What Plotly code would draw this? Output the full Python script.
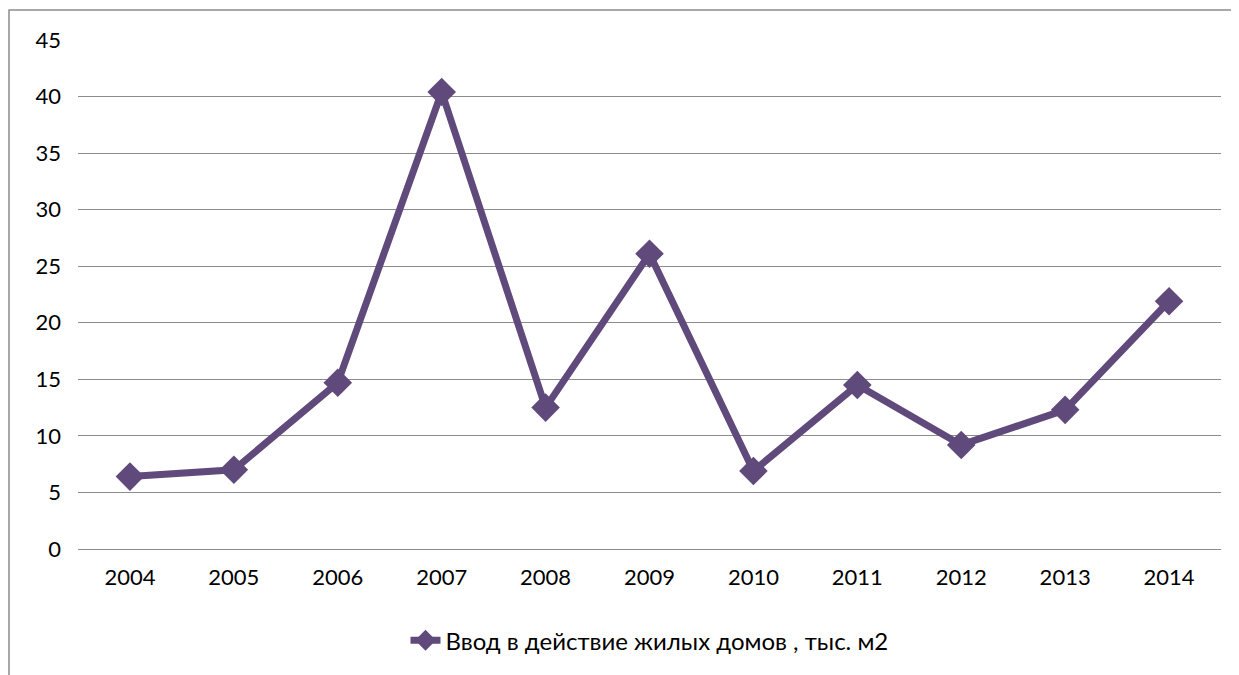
import plotly.graph_objects as go

years = ["2004", "2005", "2006", "2007", "2008", "2009", "2010", "2011", "2012", "2013", "2014"]
values = [6.4, 7.0, 14.7, 40.4, 12.5, 26.1, 6.9, 14.5, 9.2, 12.3, 21.9]
series_name = "Ввод в действие жилых домов , тыс. м2"
y_ticks = [0, 5, 10, 15, 20, 25, 30, 35, 40, 45]

color = "#604A7B"
fig = go.Figure()
fig.add_trace(go.Scatter(
    x=years, y=values, name=series_name, mode="lines+markers",
    line=dict(color=color, width=7),
    marker=dict(symbol="diamond", size=22, color=color),
    showlegend=True,
))

OFF = 8  # page body margin
W, H = 1239 - OFF, 675 - OFF
L, T = 78 - OFF, 40 - OFF
pw = 1221 - 78
ph = 551 - 40
R = W - L - pw
B = H - T - ph

fig.update_layout(
    width=W, height=H,
    margin=dict(l=L, r=R, t=T, b=B),
    paper_bgcolor="white", plot_bgcolor="white",
    font=dict(family="Lato, Open Sans, sans-serif", size=22, color="#000000"),
    xaxis=dict(type="category", range=[-0.5, 10.5], showgrid=False, showline=False,
               ticks="outside", ticklen=9, tickcolor="rgba(0,0,0,0)", tickfont=dict(size=22)),
    yaxis=dict(range=[0, 45], tickvals=y_ticks, showgrid=True, gridcolor="#8C8C8C",
               gridwidth=1, zeroline=True, zerolinecolor="#8C8C8C", zerolinewidth=1,
               showline=False, ticks="", tickfont=dict(size=22), ticklabelstandoff=16),
    legend=dict(orientation="h", x=0.5, xanchor="center", y=-(643 - 551) / ph,
                yanchor="middle", font=dict(size=24)),
    showlegend=True,
)

# outer chart border (left and top edges visible)
fig.add_shape(type="rect", xref="paper", yref="paper",
              x0=(9 - 78) / pw, x1=(1239 + 40 - 78) / pw,
              y0=-(675 + 10 - 551) / ph, y1=(551 - 10) / ph,
              line=dict(color="#8C8C8C", width=1.5), fillcolor="rgba(0,0,0,0)", layer="below")

fig.write_html("out.html")
